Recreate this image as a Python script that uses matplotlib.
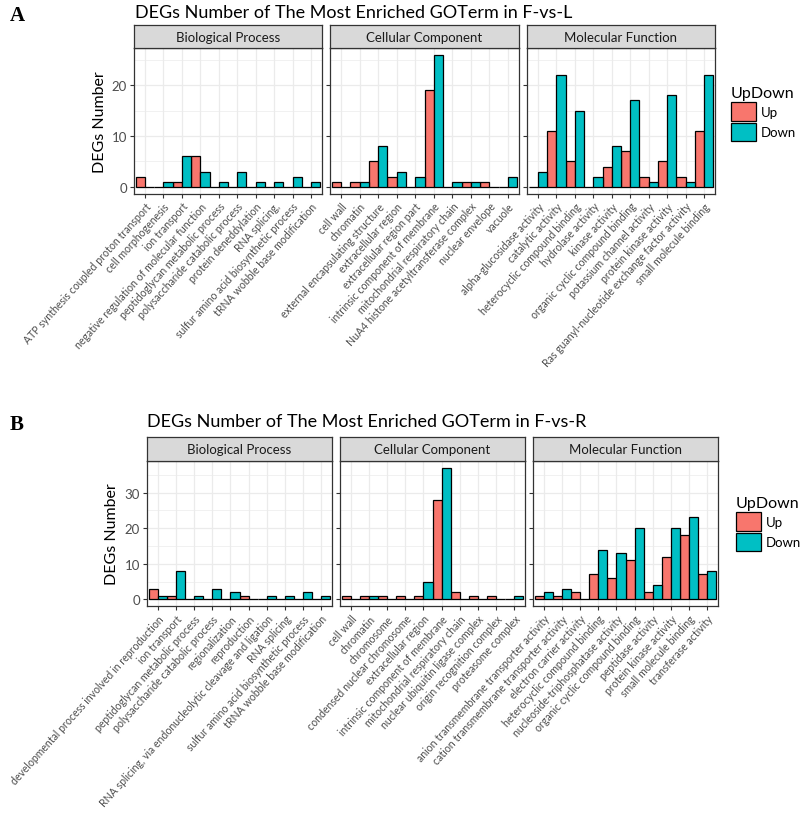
import matplotlib
matplotlib.use("Agg")
import matplotlib.pyplot as plt
from matplotlib.patches import Patch
import numpy as np

plt.rcParams['font.family'] = ['Lato', 'DejaVu Sans']

# ---------------- Data: panel A (F-vs-L) ----------------
A_bp_terms = ["ATP synthesis coupled proton transport", "cell morphogenesis", "ion transport",
              "negative regulation of molecular function", "peptidoglycan metabolic process",
              "polysaccharide catabolic process", "protein deneddylation", "RNA splicing,",
              "sulfur amino acid biosynthetic process", "tRNA wobble base modification"]
A_bp_up = [2, 0, 1, 6, 0, 0, 0, 0, 0, 0]
A_bp_down = [0, 1, 6, 3, 1, 3, 1, 1, 2, 1]

A_cc_terms = ["cell wall", "chromatin", "external encapsulating structure", "extracellular region",
              "extracellular region part", "intrinsic component of membrane",
              "mitochondrial respiratory chain", "NuA4 histone acetyltransferase complex",
              "nuclear envelope", "vacuole"]
A_cc_up = [1, 1, 5, 2, 0, 19, 0, 1, 1, 0]
A_cc_down = [0, 1, 8, 3, 2, 26, 1, 1, 0, 2]

A_mf_terms = ["alpha-glucosidase activity", "catalytic activity", "heterocyclic compound binding",
              "hydrolase activity", "kinase activity", "organic cyclic compound binding",
              "potassium channel activity", "protein kinase activity",
              "Ras guanyl-nucleotide exchange factor activity", "small molecule binding"]
A_mf_up = [0, 11, 5, 0, 4, 7, 2, 5, 2, 11]
A_mf_down = [3, 22, 15, 2, 8, 17, 1, 18, 1, 22]

# ---------------- Data: panel B (F-vs-R) ----------------
B_bp_terms = ["developmental process involved in reproduction", "ion transport",
              "peptidoglycan metabolic process", "polysaccharide catabolic process",
              "regionalization", "reproduction",
              "RNA splicing, via endonucleolytic cleavage and ligation", "RNA splicing",
              "sulfur amino acid biosynthetic process", "tRNA wobble base modification"]
B_bp_up = [3, 1, 0, 0, 0, 1, 0, 0, 0, 0]
B_bp_down = [1, 8, 1, 3, 2, 0, 1, 1, 2, 1]

B_cc_terms = ["cell wall", "chromatin", "chromosome", "condensed nuclear chromosome",
              "extracellular region", "intrinsic component of membrane",
              "mitochondrial respiratory chain", "nuclear ubiquitin ligase complex",
              "origin recognition complex", "proteasome complex"]
B_cc_up = [1, 1, 1, 1, 1, 28, 2, 1, 1, 0]
B_cc_down = [0, 1, 0, 0, 5, 37, 0, 0, 0, 1]

B_mf_terms = ["anion transmembrane transporter activity", "cation transmembrane transporter activity",
              "electron carrier activity", "heterocyclic compound binding",
              "nucleoside-triphosphatase activity", "organic cyclic compound binding",
              "peptidase activity", "protein kinase activity", "small molecule binding",
              "transferase activity"]
B_mf_up = [1, 1, 2, 7, 6, 11, 2, 12, 18, 7]
B_mf_down = [2, 3, 0, 14, 13, 20, 4, 20, 23, 8]

facet_names = ["Biological Process", "Cellular Component", "Molecular Function"]
series_names = ["Up", "Down"]
colors = ["#F8766D", "#00BFC4"]

W, H = 800, 828
fig = plt.figure(figsize=(W / 100, H / 100), dpi=100)


def fx(px):
    return px / W


def fy(py):
    return 1 - py / H


def draw_panel(letter, title, facets, panel_x, top, strip_h, bottom, ylabel_x, title_x, title_y,
               leg_x, leg_y, minor_step):
    ymax = max(max(max(u), max(d)) for _, u, d in facets)
    lo, hi = -0.05 * ymax, 1.05 * ymax
    for i, ((terms, up, down), (x0, x1)) in enumerate(zip(facets, panel_x)):
        ax = fig.add_axes([fx(x0), fy(bottom), fx(x1 - x0), (bottom - top) / H])
        x = np.arange(1, len(terms) + 1)
        ax.bar(x - 0.25, up, width=0.5, color=colors[0], edgecolor="black", linewidth=0.9, zorder=3)
        ax.bar(x + 0.25, down, width=0.5, color=colors[1], edgecolor="black", linewidth=0.9, zorder=3)
        ax.set_xlim(0.4, len(terms) + 0.6)
        ax.set_ylim(lo, hi)
        ax.set_xticks(x)
        ax.set_xticklabels(terms, rotation=48, ha="right", va="top", rotation_mode="anchor",
                           fontsize=7.6, color="#4D4D4D")
        ax.set_yticks(np.arange(0, hi, 10))
        ax.set_yticks(np.arange(minor_step, hi, 10), minor=True)
        if i == 0:
            ax.tick_params(axis="y", labelsize=9.5, labelcolor="#4D4D4D")
        else:
            ax.tick_params(axis="y", labelleft=False)
        ax.tick_params(axis="both", which="major", length=3, width=0.8, color="#333333", pad=2)
        ax.tick_params(axis="y", which="minor", length=0)
        ax.grid(True, which="major", color="#EBEBEB", linewidth=0.9, zorder=0)
        ax.grid(True, which="minor", axis="y", color="#EBEBEB", linewidth=0.5, zorder=0)
        ax.set_axisbelow(True)
        for s in ax.spines.values():
            s.set_color("#333333")
            s.set_linewidth(0.9)
        # strip
        sax = fig.add_axes([fx(x0), fy(top), fx(x1 - x0), strip_h / H])
        sax.set_facecolor("#D9D9D9")
        sax.set_xticks([])
        sax.set_yticks([])
        for s in sax.spines.values():
            s.set_color("#333333")
            s.set_linewidth(0.9)
        sax.text(0.5, 0.48, facet_names[i], transform=sax.transAxes, ha="center", va="center",
                 fontsize=9.5, color="#1A1A1A")
    fig.text(fx(ylabel_x), fy((top + bottom) / 2), "DEGs Number", rotation=90, ha="center",
             va="center", fontsize=11.5, color="black")
    fig.text(fx(title_x), fy(title_y), title, ha="left", va="center", fontsize=13, color="black")
    fig.text(fx(10), fy(title_y + 3), letter, ha="left", va="center", fontsize=15,
             fontweight="bold", family="Liberation Serif")
    handles = [Patch(facecolor=c, edgecolor="black", linewidth=0.9) for c in colors]
    fig.legend(handles, series_names, title="UpDown", loc="upper left",
               bbox_to_anchor=(fx(leg_x), fy(leg_y)), frameon=False, fontsize=9.5,
               title_fontsize=11.5, handlelength=1.9, handleheight=1.8, labelspacing=0.15,
               handletextpad=0.35, borderpad=0, borderaxespad=0, alignment="left")


draw_panel("A", "DEGs Number of The Most Enriched GOTerm in F-vs-L",
           [(A_bp_terms, A_bp_up, A_bp_down), (A_cc_terms, A_cc_up, A_cc_down),
            (A_mf_terms, A_mf_up, A_mf_down)],
           [(134, 322), (330, 519), (527, 715)], 49, 23, 194.5, 100, 135, 13, 731, 87, 5)

draw_panel("B", "DEGs Number of The Most Enriched GOTerm in F-vs-R",
           [(B_bp_terms, B_bp_up, B_bp_down), (B_cc_terms, B_cc_up, B_cc_down),
            (B_mf_terms, B_mf_up, B_mf_down)],
           [(147, 332), (340, 525), (533, 718)], 462, 24, 607, 112, 147, 422, 736, 497, 5)

fig.savefig("out.png", dpi=100, facecolor="white")
